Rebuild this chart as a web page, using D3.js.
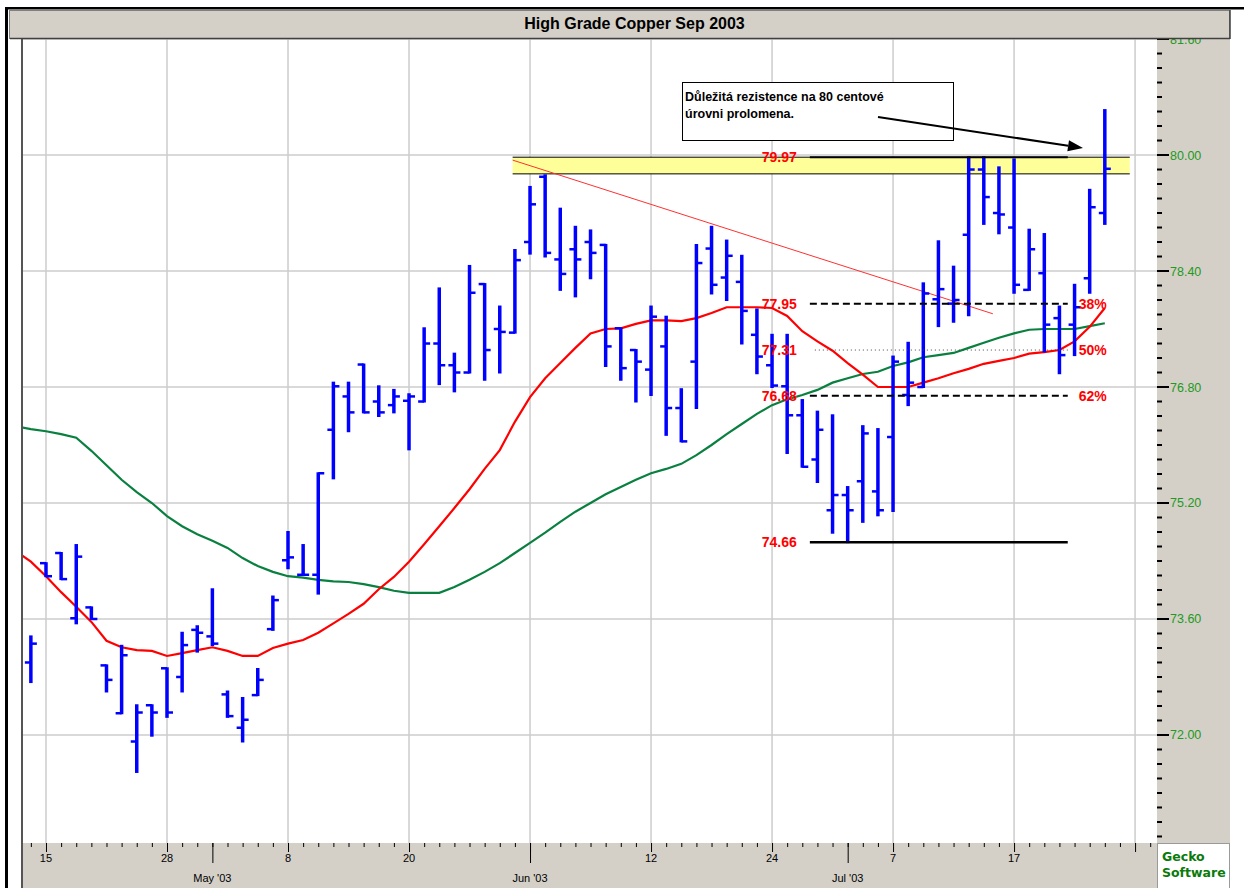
<!DOCTYPE html>
<html>
<head>
<meta charset="utf-8">
<script src="https://cdn.jsdelivr.net/npm/d3@7/dist/d3.min.js"></script>
<style>
body { margin: 0; background: #fff; }
svg { display: block; font-family: "Liberation Sans", Arial, sans-serif; }
</style>
</head>
<body>
<div id="chart"></div>
<script>
// trading days shown on the axis (bars exist for the first 72)
var dates = ["2003-04-14","2003-04-15","2003-04-16","2003-04-17","2003-04-21","2003-04-22","2003-04-23","2003-04-24","2003-04-25","2003-04-28",
    "2003-04-29","2003-04-30","2003-05-01","2003-05-02","2003-05-05","2003-05-06","2003-05-07","2003-05-08","2003-05-09","2003-05-12",
    "2003-05-13","2003-05-14","2003-05-15","2003-05-16","2003-05-19","2003-05-20","2003-05-21","2003-05-22","2003-05-23","2003-05-27",
    "2003-05-28","2003-05-29","2003-05-30","2003-06-02","2003-06-03","2003-06-04","2003-06-05","2003-06-06","2003-06-09","2003-06-10",
    "2003-06-11","2003-06-12","2003-06-13","2003-06-16","2003-06-17","2003-06-18","2003-06-19","2003-06-20","2003-06-23","2003-06-24",
    "2003-06-25","2003-06-26","2003-06-27","2003-06-30","2003-07-01","2003-07-02","2003-07-03","2003-07-07","2003-07-08","2003-07-09",
    "2003-07-10","2003-07-11","2003-07-14","2003-07-15","2003-07-16","2003-07-17","2003-07-18","2003-07-21","2003-07-22","2003-07-23",
    "2003-07-24","2003-07-25","2003-07-28","2003-07-29","2003-07-30"];

var opens  = [73.00,74.37,74.51,73.61,73.76,72.96,72.30,71.91,72.41,72.92, 72.80,73.45,73.36,72.56,72.10,72.55,73.46,74.41,74.21,74.21,
              76.21,76.67,77.11,76.60,76.55,76.61,76.60,77.40,77.10,77.00, 78.22,77.60,77.55,78.80,79.70,78.56,78.70,78.80,78.76,77.61,
              77.31,77.04,77.36,76.51,77.15,78.71,78.31,78.25,77.52,77.10, 76.81,76.41,75.80,75.10,75.31,75.50,75.36,76.11,76.69,76.80,
              78.01,77.95,78.90,79.80,79.20,79.00,78.14,78.37,77.75,77.66, 78.30,79.20];
var highs  = [73.36,74.37,74.51,74.62,73.76,72.96,73.23,72.41,72.41,72.92, 73.41,73.50,74.01,72.60,72.51,72.91,73.91,74.80,74.62,75.61,
              76.86,76.86,77.11,76.81,76.76,76.70,77.61,78.16,77.26,78.47, 78.22,77.91,78.69,79.56,79.72,79.26,79.01,78.96,78.76,77.61,
              77.31,77.91,77.77,76.77,78.76,79.01,78.82,78.61,77.87,77.52, 77.52,76.62,76.46,76.41,75.42,76.26,76.22,77.22,77.41,78.23,
              78.81,78.46,79.97,79.97,79.83,79.94,78.97,78.91,77.91,78.21, 79.52,80.62];
var lows   = [72.73,74.19,74.15,73.54,73.60,72.60,72.30,71.49,71.99,72.25, 72.60,73.15,73.24,72.25,71.91,72.55,73.45,74.30,74.21,73.95,
              75.54,76.19,76.45,76.40,76.45,75.94,76.60,76.84,76.74,77.00, 76.90,77.00,77.55,78.64,78.60,78.14,78.05,78.30,77.09,76.90,
              76.60,76.69,76.14,76.05,76.51,78.09,78.00,77.40,76.99,76.80, 75.89,75.70,75.49,74.79,74.66,74.94,75.03,75.09,76.55,76.80,
              77.64,77.70,77.79,79.05,78.92,78.10,78.14,77.29,76.99,77.24, 78.10,79.05];
var closes = [73.26,74.19,74.15,74.46,73.60,72.76,73.10,72.31,72.31,72.31, 73.24,73.41,73.26,72.26,72.21,72.76,73.86,74.45,74.21,75.61,
              76.81,76.45,76.45,76.45,76.67,76.67,77.40,77.10,77.00,78.10, 77.31,77.56,78.55,79.32,78.65,78.36,78.56,78.65,77.36,77.06,
              77.15,77.77,76.51,76.05,78.51,78.21,78.61,77.85,77.22,76.82, 76.41,75.70,76.21,75.31,75.10,76.16,75.10,77.15,76.86,78.09,
              78.15,78.00,79.80,79.42,79.18,78.21,78.70,77.66,77.24,77.90, 79.28,79.81];

// moving averages, first value belongs to the trading day before the window
var maFast = [74.54,
              74.39,74.19,73.97,73.77,73.56,73.30,73.21,73.17,73.16,73.09, 73.13,73.17,73.21,73.16,73.09,73.09,73.20,73.26,73.31,73.41,
              73.54,73.67,73.81,74.01,74.18,74.39,74.63,74.88,75.13,75.39, 75.67,75.93,76.32,76.66,76.92,77.13,77.34,77.54,77.60,77.61,
              77.67,77.72,77.72,77.71,77.75,77.82,77.90,77.90,77.90,77.89, 77.78,77.57,77.43,77.30,77.13,76.97,76.80,76.80,76.80,76.86,
              76.92,76.99,77.05,77.12,77.16,77.20,77.26,77.28,77.31,77.43, 77.63,77.89];
var maSlow = [76.26,
              76.22,76.19,76.15,76.10,75.92,75.72,75.52,75.35,75.20,75.02, 74.88,74.77,74.68,74.58,74.44,74.33,74.25,74.19,74.17,74.14,
              74.12,74.11,74.08,74.04,73.99,73.96,73.96,73.96,74.04,74.14, 74.25,74.37,74.51,74.65,74.79,74.94,75.08,75.20,75.32,75.42,
              75.52,75.61,75.67,75.74,75.86,76.00,76.15,76.29,76.43,76.55, 76.63,76.69,76.76,76.86,76.92,76.98,77.01,77.09,77.14,77.21,
              77.24,77.27,77.34,77.41,77.48,77.54,77.59,77.60,77.60,77.60, 77.64,77.68];

var yMajor = [72.00, 73.60, 75.20, 76.80, 78.40, 80.00, 81.60];
var fibValues = [77.95, 77.31, 76.68];
var fibPercents = ["38%", "50%", "62%"];
var swingHigh = 79.97;
var swingLow = 74.66;
var resistance = [79.74, 79.97];
var trendLine = [[31.85, 79.93], [63.6, 77.81]];
var titleText = "High Grade Copper Sep 2003";
var noteLines = ["Důležitá rezistence na 80 centové", "úrovni prolomena."];

var W = 1244, H = 888;
var plot = {left: 23, right: 1157, top: 37, bottom: 843};

var parse = d3.timeParse("%Y-%m-%d");
var days = dates.map(parse);

var xs = d3.scaleLinear().domain([-0.52, 74.45]).range([plot.left, plot.right]);
var ys = d3.scaleLinear().domain([70.51, 81.628]).range([plot.bottom, plot.top]);

var svg = d3.select("#chart").append("svg")
    .attr("width", W)
    .attr("height", H);

svg.append("rect").attr("width", W).attr("height", H).attr("fill", "#fff");

svg.append("clipPath").attr("id", "clip")
    .append("rect")
    .attr("x", plot.left).attr("y", plot.top)
    .attr("width", plot.right - plot.left).attr("height", plot.bottom - plot.top);

// gridlines
var gridIdx = d3.range(1, dates.length, 8);
svg.append("g").selectAll("line")
    .data(gridIdx)
    .enter().append("line")
    .attr("x1", d => xs(d)).attr("x2", d => xs(d))
    .attr("y1", plot.top).attr("y2", plot.bottom)
    .attr("stroke", "#cccccc").attr("stroke-width", 1.5);

svg.append("g").selectAll("line")
    .data(yMajor)
    .enter().append("line")
    .attr("x1", plot.left).attr("x2", plot.right)
    .attr("y1", d => ys(d)).attr("y2", d => ys(d))
    .attr("stroke", "#cccccc").attr("stroke-width", 1.5);

var body = svg.append("g").attr("clip-path", "url(#clip)");

// resistance zone
var bandStart = 31.85, bandEnd = 72.65;
body.append("rect")
    .attr("x", xs(bandStart))
    .attr("y", ys(resistance[1]))
    .attr("width", xs(bandEnd) - xs(bandStart))
    .attr("height", ys(resistance[0]) - ys(resistance[1]))
    .attr("fill", "#ffff99");
body.selectAll("line.band")
    .data(resistance)
    .enter().append("line")
    .attr("x1", xs(bandStart)).attr("x2", xs(bandEnd))
    .attr("y1", d => ys(d)).attr("y2", d => ys(d))
    .attr("stroke", "#000").attr("stroke-width", 1);

// moving averages
var line = d3.line().x(d => xs(d[0])).y(d => ys(d[1]));
body.append("path")
    .datum(maSlow.map((v, k) => [k - 1, v]))
    .attr("d", line)
    .attr("fill", "none").attr("stroke", "#0a8040").attr("stroke-width", 2.2);
body.append("path")
    .datum(maFast.map((v, k) => [k - 1, v]))
    .attr("d", line)
    .attr("fill", "none").attr("stroke", "#ff0000").attr("stroke-width", 2.2);

// downtrend line
body.append("line")
    .attr("x1", xs(trendLine[0][0])).attr("y1", ys(trendLine[0][1]))
    .attr("x2", xs(trendLine[1][0])).attr("y2", ys(trendLine[1][1]))
    .attr("stroke", "#ff3030").attr("stroke-width", 1);

// OHLC bars
var bars = closes.map((c, i) => ({i: i, o: opens[i], h: highs[i], l: lows[i], c: c}));
var bg = body.append("g").attr("stroke", "#0000ff");
bg.selectAll("line.hl")
    .data(bars)
    .enter().append("line")
    .attr("x1", d => xs(d.i)).attr("x2", d => xs(d.i))
    .attr("y1", d => ys(d.h) - 1).attr("y2", d => ys(d.l) + 1)
    .attr("stroke-width", 3.5);
bg.selectAll("line.open")
    .data(bars)
    .enter().append("line")
    .attr("x1", d => xs(d.i) - 6).attr("x2", d => xs(d.i))
    .attr("y1", d => ys(d.o)).attr("y2", d => ys(d.o))
    .attr("stroke-width", 2.5);
bg.selectAll("line.close")
    .data(bars)
    .enter().append("line")
    .attr("x1", d => xs(d.i)).attr("x2", d => xs(d.i) + 6)
    .attr("y1", d => ys(d.c)).attr("y2", d => ys(d.c))
    .attr("stroke-width", 2.5);

// retracement levels
var fibStart = 51.5, fibEnd = 68.55;
var levels = [
    {v: swingHigh, label: swingHigh.toFixed(2), pct: "", dash: null, w: 2},
    {v: fibValues[0], label: fibValues[0].toFixed(2), pct: fibPercents[0], dash: "7,4", w: 2},
    {v: fibValues[1], label: fibValues[1].toFixed(2), pct: fibPercents[1], dash: "1,3", w: 1},
    {v: fibValues[2], label: fibValues[2].toFixed(2), pct: fibPercents[2], dash: "7,4", w: 2},
    {v: swingLow, label: swingLow.toFixed(2), pct: "", dash: null, w: 2.5}
];
var lv = svg.append("g");
lv.selectAll("line")
    .data(levels)
    .enter().append("line")
    .attr("x1", d => xs(fibStart) + (d.w == 1 ? 5 : 0)).attr("x2", xs(fibEnd))
    .attr("y1", d => ys(d.v)).attr("y2", d => ys(d.v))
    .attr("stroke", d => d.w == 1 ? "#444" : "#000")
    .attr("stroke-width", d => d.w)
    .attr("stroke-dasharray", d => d.dash);
lv.selectAll("text.val")
    .data(levels)
    .enter().append("text")
    .attr("x", xs(fibStart) - 13)
    .attr("y", d => ys(d.v) + 5)
    .attr("text-anchor", "end")
    .style("font-size", "14px").style("font-weight", "bold")
    .attr("fill", "#ff0000")
    .text(d => d.label);
lv.selectAll("text.pct")
    .data(levels.filter(d => d.pct))
    .enter().append("text")
    .attr("x", xs(fibEnd) + 11)
    .attr("y", d => ys(d.v) + 5)
    .style("font-size", "14px").style("font-weight", "bold")
    .attr("fill", "#ff0000")
    .text(d => d.pct);

// note box with arrow
var note = svg.append("g");
note.append("rect")
    .attr("x", 682.5).attr("y", 82.5).attr("width", 271).attr("height", 58)
    .attr("fill", "#fff").attr("stroke", "#000").attr("stroke-width", 1);
note.selectAll("text")
    .data(noteLines)
    .enter().append("text")
    .attr("x", 685)
    .attr("y", (d, k) => 100.5 + k * 17.5)
    .style("font-size", "12.5px").style("font-weight", "bold")
    .attr("fill", "#000")
    .text(d => d);
var a0 = [878, 117], a1 = [1083, 148];
var ang = Math.atan2(a1[1] - a0[1], a1[0] - a0[0]);
var hl = 15, hw = 5.5;
var base = [a1[0] - hl * Math.cos(ang), a1[1] - hl * Math.sin(ang)];
note.append("line")
    .attr("x1", a0[0]).attr("y1", a0[1]).attr("x2", base[0]).attr("y2", base[1])
    .attr("stroke", "#000").attr("stroke-width", 2);
note.append("path")
    .attr("d", "M" + a1[0] + "," + a1[1] +
        "L" + (base[0] + hw * Math.sin(ang)) + "," + (base[1] - hw * Math.cos(ang)) +
        "L" + (base[0] - hw * Math.sin(ang)) + "," + (base[1] + hw * Math.cos(ang)) + "Z")
    .attr("fill", "#000");

// right axis panel
var panelRight = 1230;
svg.append("rect")
    .attr("x", plot.right).attr("y", plot.top)
    .attr("width", panelRight - plot.right).attr("height", plot.bottom - plot.top)
    .attr("fill", "#d4d0c8");
var yTicks = d3.range(70.6, 81.65, 0.2);
svg.append("g").selectAll("line")
    .data(yTicks)
    .enter().append("line")
    .attr("x1", plot.right)
    .attr("x2", d => yMajor.some(m => Math.abs(m - d) < 0.01) ? plot.right + 12 : plot.right + 5)
    .attr("y1", d => ys(d)).attr("y2", d => ys(d))
    .attr("stroke", "#000").attr("stroke-width", 2);
svg.append("g").selectAll("text")
    .data(yMajor)
    .enter().append("text")
    .attr("x", plot.right + 13)
    .attr("y", d => ys(d) + 4.5)
    .style("font-size", "12.5px")
    .attr("fill", "#229922")
    .text(d => d.toFixed(2));

// bottom axis band
svg.append("rect")
    .attr("x", plot.left).attr("y", plot.bottom)
    .attr("width", plot.right - plot.left).attr("height", H - plot.bottom)
    .attr("fill", "#d4d0c8");
var monthIdx = d3.range(1, dates.length).filter(i => days[i].getMonth() != days[i - 1].getMonth());
var dayIdx = gridIdx.filter(i => i <= closes.length && !monthIdx.some(m => Math.abs(m - i) < 3));
var xa = svg.append("g");
xa.selectAll("line.minor")
    .data(d3.range(dates.length))
    .enter().append("line")
    .attr("x1", d => xs(d) + 0.5).attr("x2", d => xs(d) + 0.5)
    .attr("y1", plot.bottom).attr("y2", d => gridIdx.indexOf(d) >= 0 ? plot.bottom + 9 : plot.bottom + 4)
    .attr("stroke", "#000").attr("stroke-width", 1);
xa.selectAll("line.month")
    .data(monthIdx)
    .enter().append("line")
    .attr("x1", d => xs(d) + 0.5).attr("x2", d => xs(d) + 0.5)
    .attr("y1", plot.bottom).attr("y2", plot.bottom + 20)
    .attr("stroke", "#000").attr("stroke-width", 1);
xa.selectAll("text.day")
    .data(dayIdx)
    .enter().append("text")
    .attr("x", d => xs(d))
    .attr("y", plot.bottom + 19)
    .attr("text-anchor", "middle")
    .style("font-size", "11px")
    .attr("fill", "#000")
    .text(d => d3.timeFormat("%-d")(days[d]));
xa.selectAll("text.month")
    .data(monthIdx)
    .enter().append("text")
    .attr("x", d => xs(d))
    .attr("y", plot.bottom + 39)
    .attr("text-anchor", "middle")
    .style("font-size", "11px")
    .attr("fill", "#000")
    .text(d => d3.timeFormat("%b '%y")(days[d]));

// logo box
svg.append("rect")
    .attr("x", plot.right + 0.5).attr("y", plot.bottom + 0.5)
    .attr("width", panelRight - plot.right - 1).attr("height", H - plot.bottom)
    .attr("fill", "#fff").attr("stroke", "#9a9a9a");
svg.append("g").selectAll("text")
    .data(["Gecko", "Software"])
    .enter().append("text")
    .attr("x", plot.right + 5)
    .attr("y", (d, k) => 861 + k * 15.5)
    .style("font-family", "'DejaVu Sans', Verdana, sans-serif")
    .style("font-size", "12.5px").style("font-weight", "bold")
    .attr("fill", "#0a7a0a")
    .text(d => d);

// plot left border
svg.append("line")
    .attr("x1", plot.left - 1).attr("x2", plot.left - 1)
    .attr("y1", plot.top).attr("y2", H)
    .attr("stroke", "#555").attr("stroke-width", 2);

// title bar
svg.append("rect")
    .attr("x", 9.5).attr("y", 10.5).attr("width", panelRight - 10).attr("height", 28)
    .attr("fill", "#d4d0c8").attr("stroke", "#808080").attr("stroke-width", 1);
svg.append("line")
    .attr("x1", 10).attr("x2", panelRight).attr("y1", 38.5).attr("y2", 38.5)
    .attr("stroke", "#404040").attr("stroke-width", 1.5);
svg.append("line")
    .attr("x1", panelRight).attr("x2", panelRight).attr("y1", 10).attr("y2", 39)
    .attr("stroke", "#404040").attr("stroke-width", 1.5);
svg.append("text")
    .attr("x", (9 + panelRight) / 2 + 15)
    .attr("y", 29)
    .attr("text-anchor", "middle")
    .style("font-family", "'Liberation Sans Narrow', 'Arial Narrow', 'Liberation Sans', sans-serif")
    .style("font-size", "16px").style("font-weight", "bold")
    .attr("fill", "#000")
    .text(titleText);

// outer frame
svg.append("rect").attr("x", 5).attr("y", 7).attr("width", W - 5).attr("height", 2.5).attr("fill", "#000");
svg.append("rect").attr("x", 5).attr("y", 7).attr("width", 3).attr("height", H - 7).attr("fill", "#000");
</script>
</body>
</html>
